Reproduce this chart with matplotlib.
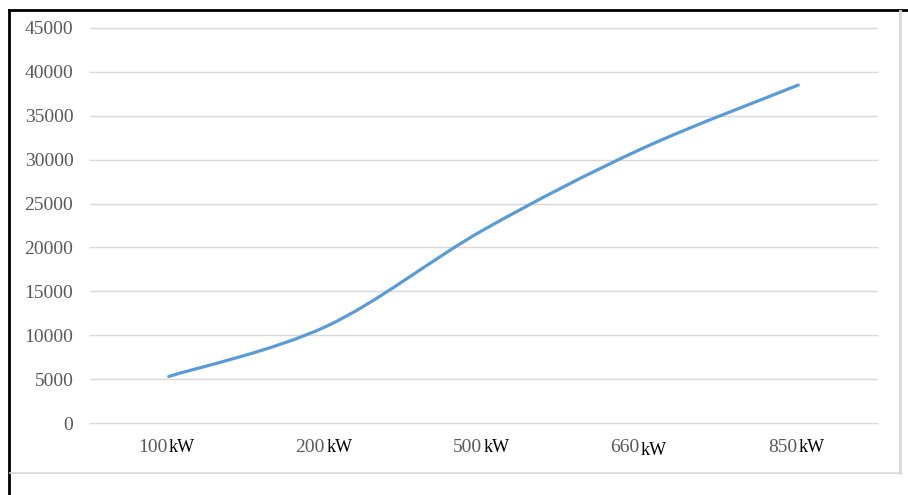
import numpy as np
import matplotlib
import matplotlib.pyplot as plt
from matplotlib.path import Path
from matplotlib.patches import PathPatch
from matplotlib.lines import Line2D

matplotlib.use('Agg')

# data
ratings = ['100', '200', '500', '660', '850']
unit = 'kW'
values = [5300, 11000, 22000, 31200, 38500]
y_ticks = list(range(0, 45001, 5000))

plt.rcParams['font.family'] = ['Liberation Serif', 'DejaVu Serif']

fig = plt.figure(figsize=(9.08, 4.95), dpi=100)
ax = fig.add_axes([90 / 908, 1 - 423 / 495, 787 / 908, 395 / 495])

x = np.arange(len(values), dtype=float)
y = np.array(values, dtype=float)

# smoothed line like the spreadsheet one (cubic bezier through the points)
px = np.concatenate([[x[0]], x, [x[-1]]])
py = np.concatenate([[y[0]], y, [y[-1]]])
verts = [(x[0], y[0])]
codes = [Path.MOVETO]
for i in range(1, len(px) - 2):
    c1 = (px[i] + (px[i + 1] - px[i - 1]) / 6, py[i] + (py[i + 1] - py[i - 1]) / 6)
    c2 = (px[i + 1] - (px[i + 2] - px[i]) / 6, py[i + 1] - (py[i + 2] - py[i]) / 6)
    verts += [c1, c2, (px[i + 1], py[i + 1])]
    codes += [Path.CURVE4] * 3
ax.add_patch(PathPatch(Path(verts, codes), facecolor='none', edgecolor='#5B9BD5',
                       linewidth=2.3, capstyle='round', zorder=3))

ax.set_xlim(-0.5, len(values) - 0.5)
ax.set_ylim(0, 45000)
ax.set_yticks(y_ticks)
ax.set_yticklabels([str(v) for v in y_ticks], color='#595959', fontsize=14)
ax.tick_params(axis='y', length=0, pad=12)
ax.set_xticks(x)
ax.set_xticklabels([])
ax.tick_params(axis='x', length=0)
ax.grid(True, axis='y', color='#D9D9D9', linewidth=1)
for gl in ax.yaxis.get_gridlines():
    gl.set_clip_on(False)
ax.set_axisbelow(True)
for s in ax.spines.values():
    s.set_visible(False)

# category labels: grey number, black unit
for i, r in enumerate(ratings):
    ax.annotate(r, xy=(i, 0), xycoords=('data', 'axes fraction'), xytext=(-1, -18),
                textcoords='offset points', ha='right', va='center',
                color='#595959', fontsize=14)
    ax.annotate(unit, xy=(i, 0), xycoords=('data', 'axes fraction'), xytext=(0, -18 if i != 3 else -19.5),
                textcoords='offset points', ha='left', va='center',
                color='black', fontsize=13)

# chart frame
fig.add_artist(Line2D([9 / 908, 1], [1 - 10 / 495] * 2, color='black', linewidth=2))
fig.add_artist(Line2D([9 / 908] * 2, [0, 1 - 10 / 495], color='black', linewidth=2))
fig.add_artist(Line2D([900 / 908] * 2, [1 - 473 / 495, 1 - 11 / 495], color='#D9D9D9', linewidth=2))
fig.add_artist(Line2D([10 / 908, 901 / 908], [1 - 473 / 495] * 2, color='#D9D9D9', linewidth=1.2))

fig.savefig('out.png', dpi=100)
